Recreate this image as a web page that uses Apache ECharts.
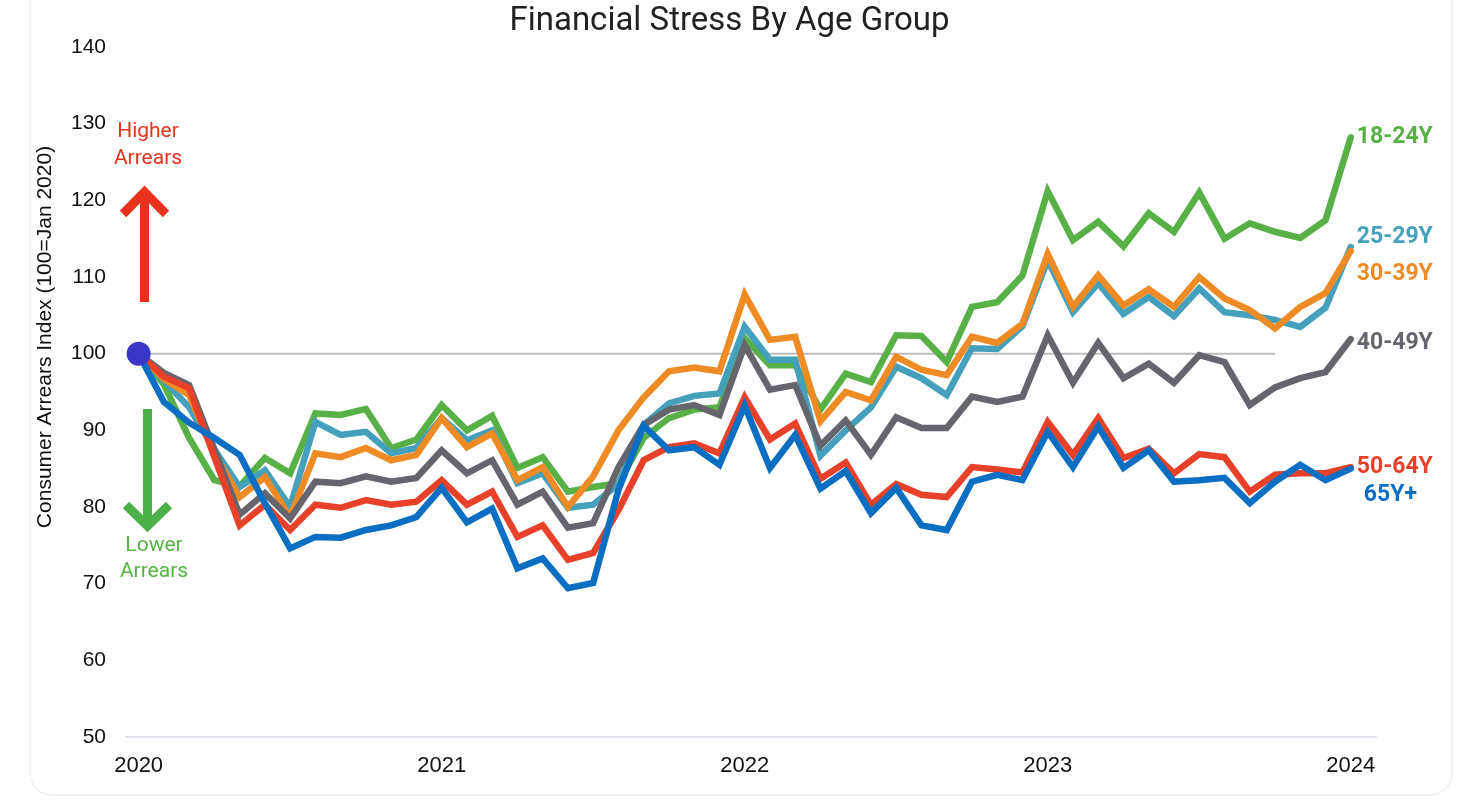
<!DOCTYPE html>
<html>
<head>
<meta charset="utf-8">
<script src="https://cdn.jsdelivr.net/npm/echarts@6/dist/echarts.min.js"></script>
<style>
html,body{margin:0;padding:0;background:#fff;}
#chart{width:1459px;height:801px;}
</style>
</head>
<body>
<div id="chart"></div>
<script>
// Months since Jan 2020 (0 = Jan 2020, 48 = Jan 2024)
const months = Array.from({length: 49}, (_, i) => i);
const tickMonths = [0, 12, 24, 36, 48];
const tickLabels = ['2020', '2021', '2022', '2023', '2024'];
const seriesNames = ['18-24Y', '25-29Y', '30-39Y', '40-49Y', '50-64Y', '65Y+'];

const age18_24 = [100, 96, 89, 83.5, 82.7, 86.4, 84.4, 92.2, 92, 92.8, 87.7, 88.8, 93.3, 90, 91.9, 85.1, 86.5, 82, 82.6, 83.1, 89, 91.6, 92.7, 93, 102, 98.5, 98.5, 92.7, 97.4, 96.3, 102.4, 102.3, 98.9, 106.1, 106.7, 110.2, 121.2, 114.8, 117.2, 114, 118.3, 115.9, 121, 115, 117, 115.9, 115.1, 117.4, 128.2];
const age25_29 = [100, 96.5, 93, 87.5, 82.6, 84.8, 80, 91.1, 89.4, 89.8, 87, 87.7, 91.6, 88.7, 90, 83.1, 84.4, 79.9, 80.3, 83, 90.7, 93.5, 94.5, 94.8, 103.5, 99.2, 99.2, 86.7, 90, 93, 98.3, 96.8, 94.6, 100.7, 100.6, 103.6, 112.2, 105.4, 109.2, 105.2, 107.4, 104.9, 108.5, 105.4, 105, 104.4, 103.5, 106, 113.9];
const age30_39 = [100, 96.7, 94.6, 87, 81.3, 83.9, 78.7, 87, 86.5, 87.7, 86.1, 86.8, 91.6, 87.8, 89.6, 83.5, 85.2, 80, 84, 90, 94.3, 97.7, 98.2, 97.7, 107.7, 101.8, 102.2, 91.2, 95, 93.9, 99.6, 97.9, 97.2, 102.2, 101.4, 103.9, 113, 106.1, 110.2, 106.3, 108.4, 106.1, 110, 107.2, 105.7, 103.3, 106.1, 107.9, 113.4];
const age40_49 = [100, 97.5, 95.9, 87.5, 79, 81.8, 78.5, 83.3, 83.1, 84, 83.3, 83.8, 87.4, 84.4, 86.1, 80.3, 82, 77.3, 77.9, 85.2, 90.7, 92.7, 93.3, 92, 101.1, 95.3, 95.9, 88, 91.3, 86.8, 91.7, 90.3, 90.3, 94.4, 93.7, 94.4, 102.4, 96.2, 101.4, 96.8, 98.7, 96.2, 99.8, 98.9, 93.3, 95.6, 96.8, 97.6, 101.9];
const age50_64 = [100, 97, 95.5, 86.5, 77.6, 80.3, 77, 80.3, 79.9, 80.9, 80.3, 80.7, 83.5, 80.3, 82, 76.1, 77.6, 73.1, 74, 79.6, 86.1, 87.8, 88.3, 87, 94.3, 88.8, 90.9, 83.7, 85.8, 80.3, 83, 81.6, 81.3, 85.2, 84.9, 84.5, 91.1, 86.8, 91.6, 86.4, 87.6, 84.4, 86.9, 86.5, 82, 84.2, 84.4, 84.4, 85.2];
const age65plus = [100, 93.7, 91, 89, 86.8, 80.5, 74.6, 76.1, 76, 77, 77.6, 78.7, 82.5, 78, 79.8, 72, 73.3, 69.4, 70.1, 82.2, 90.6, 87.4, 87.8, 85.5, 93.2, 85.1, 89.4, 82.4, 84.7, 79.2, 82.5, 77.6, 77, 83.3, 84.2, 83.5, 89.8, 85.2, 90.5, 85.1, 87.4, 83.3, 83.5, 83.8, 80.5, 83.3, 85.5, 83.5, 85];

// Baseline reference (100 = Jan 2020) spanning Jan 2020 to Oct 2023
const baselineMonths = [0, 45];
const baselineValues = [100, 100];
const baseDot = [[0, 100]];

const colors = ['#58b146', '#45a0bb', '#ee8b25', '#65656d', '#e8412a', '#0a6fc2'];
const labelOffsets = [[0, 0], [0, -10], [0, 23], [0, 4], [0, 0], [7, 27]];
const allData = [age18_24, age25_29, age30_39, age40_49, age50_64, age65plus];

const chart = echarts.init(document.getElementById('chart'), null, {renderer: 'canvas'});

const lineSeries = allData.map((vals, k) => ({
  name: seriesNames[k],
  type: 'line',
  data: months.map((m, i) => [m, vals[i]]),
  showSymbol: false,
  symbol: 'none',
  z: 3 + k,
  lineStyle: {color: colors[k], width: 6.5, cap: 'round', join: 'miter', miterLimit: 3},
  itemStyle: {color: colors[k]},
  endLabel: {
    show: true,
    formatter: seriesNames[k],
    color: colors[k],
    fontFamily: 'Roboto',
    fontWeight: 'bold',
    fontSize: 23,
    distance: 6,
    offset: labelOffsets[k]
  },
  emphasis: {disabled: true}
}));

const option = {
  animation: false,
  backgroundColor: '#ffffff',
  title: {
    text: 'Financial Stress By Age Group',
    left: 'center',
    top: 0,
    textStyle: {fontFamily: 'Roboto', fontWeight: 'normal', fontSize: 33, color: '#222'}
  },
  grid: {left: 126, right: 83, top: 47, bottom: 64, containLabel: false},
  xAxis: {
    type: 'value',
    min: -0.5,
    max: 49,
    splitLine: {show: false},
    axisTick: {show: false},
    axisLine: {show: true, lineStyle: {color: '#dfe3ea', width: 2}},
    axisLabel: {
      customValues: tickMonths,
      formatter: v => tickLabels[tickMonths.indexOf(v)] || '',
      color: '#111',
      fontFamily: 'Liberation Sans',
      fontSize: 22,
      margin: 18
    }
  },
  yAxis: {
    type: 'value',
    min: 50,
    max: 140,
    interval: 10,
    splitLine: {show: false},
    axisTick: {show: false},
    axisLine: {show: false},
    axisLabel: {color: '#111', fontFamily: 'Liberation Sans', fontSize: 21, margin: 20}
  },
  series: [
    {
      name: 'baseline',
      type: 'line',
      data: baselineMonths.map((m, i) => [m, baselineValues[i]]),
      showSymbol: false,
      symbol: 'none',
      z: 2,
      lineStyle: {color: '#bdbdbd', width: 2},
      emphasis: {disabled: true}
    },
    ...lineSeries,
    {
      name: 'start',
      type: 'scatter',
      data: baseDot,
      symbolSize: 24,
      z: 20,
      itemStyle: {color: '#3a36c8', opacity: 1},
      emphasis: {disabled: true}
    }
  ],
  graphic: [
    {type: 'rect', silent: true, z: -1, shape: {x: 30, y: -30, width: 1422, height: 825, r: 22}, style: {fill: 'none', stroke: '#f1f1f1', lineWidth: 1.5}},
    {type: 'text', silent: true, x: 45, y: 337, rotation: Math.PI / 2,
      style: {text: 'Consumer Arrears Index (100=Jan 2020)', fontFamily: 'Liberation Sans', fontSize: 21, fill: '#111', align: 'center', verticalAlign: 'middle'}},
    {type: 'text', silent: true, x: 148, y: 132, style: {text: 'Higher', fontFamily: 'Roboto', fontSize: 21, fill: '#e8321e', align: 'center', verticalAlign: 'middle'}},
    {type: 'text', silent: true, x: 148, y: 159, style: {text: 'Arrears', fontFamily: 'Roboto', fontSize: 21, fill: '#e8321e', align: 'center', verticalAlign: 'middle'}},
    {type: 'line', silent: true, shape: {x1: 144.5, y1: 302, x2: 144.5, y2: 192}, style: {stroke: '#e8321e', lineWidth: 9}},
    {type: 'polyline', silent: true, shape: {points: [[123, 214], [144.5, 192], [166, 214]]}, style: {stroke: '#e8321e', lineWidth: 9, fill: 'none', lineJoin: 'miter'}},
    {type: 'text', silent: true, x: 154, y: 546, style: {text: 'Lower', fontFamily: 'Roboto', fontSize: 21, fill: '#55b444', align: 'center', verticalAlign: 'middle'}},
    {type: 'text', silent: true, x: 154, y: 572, style: {text: 'Arrears', fontFamily: 'Roboto', fontSize: 21, fill: '#55b444', align: 'center', verticalAlign: 'middle'}},
    {type: 'line', silent: true, shape: {x1: 147.5, y1: 409, x2: 147.5, y2: 526}, style: {stroke: '#4bb048', lineWidth: 9}},
    {type: 'polyline', silent: true, shape: {points: [[126, 505], [147.5, 526], [169, 505]]}, style: {stroke: '#4bb048', lineWidth: 9, fill: 'none', lineJoin: 'miter'}}
  ]
};

chart.setOption(option);
</script>
</body>
</html>
